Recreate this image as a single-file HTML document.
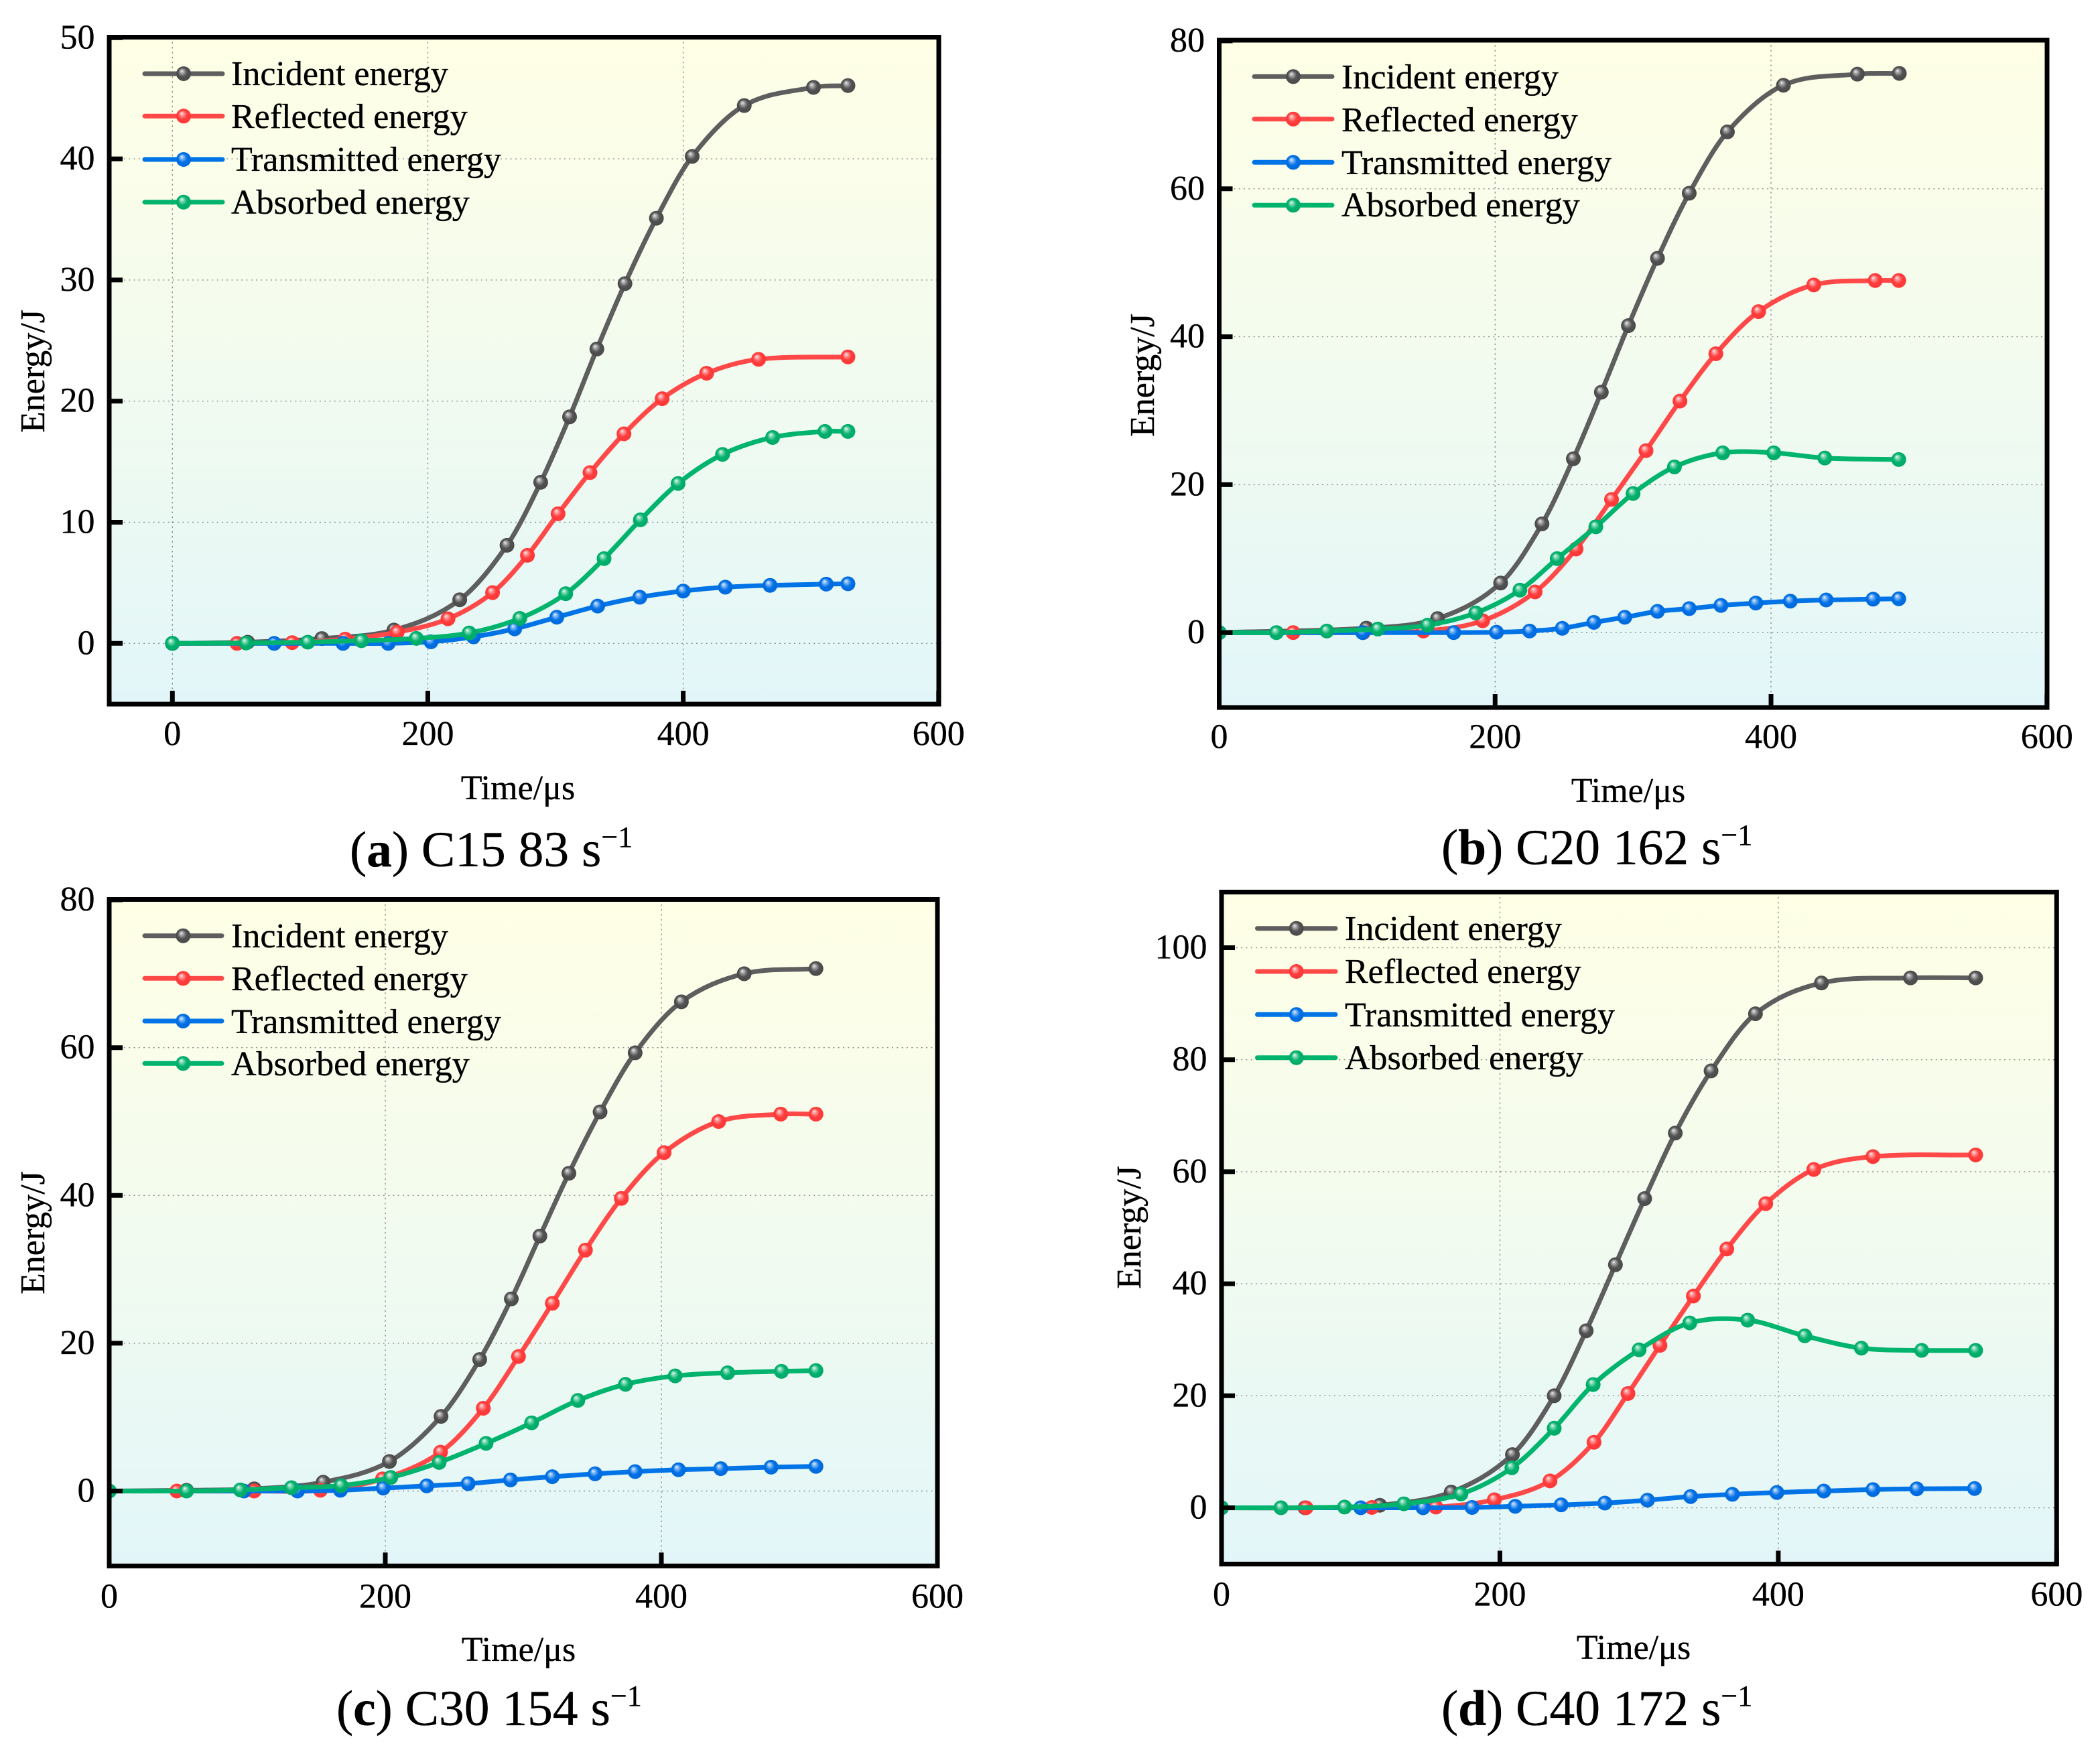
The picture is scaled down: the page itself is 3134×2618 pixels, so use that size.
<!DOCTYPE html>
<html lang="en">
<head>
<meta charset="utf-8">
<title>Energy time-history curves</title>
<style>
html,body{margin:0;padding:0;background:#fff;}
svg{display:block;}
text{font-family:"Liberation Serif",serif;fill:#000;stroke:#000;stroke-width:.35px;}
.lg{font-size:52px;}
.tk{font-size:52px;}
.at{font-size:52px;}
.cap{font-size:75.5px;}
.cap .b{font-weight:bold;}
.sup{font-size:44px;}
</style>
</head>
<body>
<svg id="fig" xmlns="http://www.w3.org/2000/svg" width="3134" height="2618" viewBox="0 0 3134 2618">
<defs>
<linearGradient id="bg" x1="0" y1="0" x2="0" y2="1">
<stop offset="0" stop-color="#ffffe6"/><stop offset="0.5" stop-color="#f2fbef"/><stop offset="1" stop-color="#e2f6f9"/>
</linearGradient>
<radialGradient id="m-incident" cx=".5" cy=".5" r=".55" fx=".36" fy=".3">
<stop offset="0" stop-color="#eeeeee"/><stop offset=".22" stop-color="#a8a8a8"/><stop offset=".55" stop-color="#525252"/><stop offset="1" stop-color="#484848"/>
</radialGradient>
<radialGradient id="m-reflected" cx=".5" cy=".5" r=".55" fx=".36" fy=".3">
<stop offset="0" stop-color="#ffeeee"/><stop offset=".22" stop-color="#ff9a9a"/><stop offset=".55" stop-color="#ff3c3c"/><stop offset="1" stop-color="#ff3636"/>
</radialGradient>
<radialGradient id="m-transmitted" cx=".5" cy=".5" r=".55" fx=".36" fy=".3">
<stop offset="0" stop-color="#e8f2ff"/><stop offset=".22" stop-color="#80b8f5"/><stop offset=".55" stop-color="#0070e4"/><stop offset="1" stop-color="#0068dc"/>
</radialGradient>
<radialGradient id="m-absorbed" cx=".5" cy=".5" r=".55" fx=".36" fy=".3">
<stop offset="0" stop-color="#e8fff5"/><stop offset=".22" stop-color="#80d8b4"/><stop offset=".55" stop-color="#00b06c"/><stop offset="1" stop-color="#00a866"/>
</radialGradient>
</defs>

<g id="plots"></g>

<g>
  <text class="at" x="773" y="1193" text-anchor="middle">Time/μs</text>
  <text class="at" transform="translate(66 554) rotate(-90)" text-anchor="middle">Energy/J</text>
  <text class="cap" x="522" y="1293">(<tspan class="b">a</tspan>) C15 83 s<tspan class="sup" dy="-29">−1</tspan></text>
  <text class="lg" x="345" y="127">Incident energy</text>
  <text class="lg" x="345" y="191">Reflected energy</text>
  <text class="lg" x="345" y="255">Transmitted energy</text>
  <text class="lg" x="345" y="319">Absorbed energy</text>
</g>
<g>
  <text class="at" x="2430" y="1197" text-anchor="middle">Time/μs</text>
  <text class="at" transform="translate(1722 560) rotate(-90)" text-anchor="middle">Energy/J</text>
  <text class="cap" x="2151" y="1290">(<tspan class="b">b</tspan>) C20 162 s<tspan class="sup" dy="-29">−1</tspan></text>
  <text class="lg" x="2002" y="132">Incident energy</text>
  <text class="lg" x="2002" y="196">Reflected energy</text>
  <text class="lg" x="2002" y="260">Transmitted energy</text>
  <text class="lg" x="2002" y="323">Absorbed energy</text>
</g>
<g>
  <text class="at" x="774" y="2479" text-anchor="middle">Time/μs</text>
  <text class="at" transform="translate(66 1840) rotate(-90)" text-anchor="middle">Energy/J</text>
  <text class="cap" x="502" y="2575">(<tspan class="b">c</tspan>) C30 154 s<tspan class="sup" dy="-29">−1</tspan></text>
  <text class="lg" x="345" y="1414">Incident energy</text>
  <text class="lg" x="345" y="1478">Reflected energy</text>
  <text class="lg" x="345" y="1542">Transmitted energy</text>
  <text class="lg" x="345" y="1605">Absorbed energy</text>
</g>
<g>
  <text class="at" x="2438" y="2476" text-anchor="middle">Time/μs</text>
  <text class="at" transform="translate(1702 1832) rotate(-90)" text-anchor="middle">Energy/J</text>
  <text class="cap" x="2151" y="2575">(<tspan class="b">d</tspan>) C40 172 s<tspan class="sup" dy="-29">−1</tspan></text>
  <text class="lg" x="2007" y="1403">Incident energy</text>
  <text class="lg" x="2007" y="1467">Reflected energy</text>
  <text class="lg" x="2007" y="1532">Transmitted energy</text>
  <text class="lg" x="2007" y="1596">Absorbed energy</text>
</g>
</svg>

<script>
/* ---------- tick labels ---------- */
const xTicksAll = [0, 200, 400, 600];
const yTicksA = [0, 10, 20, 30, 40, 50];
const yTicksB = [0, 20, 40, 60, 80];
const yTicksC = [0, 20, 40, 60, 80];
const yTicksD = [0, 20, 40, 60, 80, 100];

/* ---------- panel (a) C15 83 /s ---------- */
const aIncidentT = [0, 58.9, 117, 173.5, 225, 262, 288.4, 311, 332.4, 354.4, 379, 407, 447.8, 502, 529];
const aIncidentE = [0, 0.1, 0.4, 1.1, 3.6, 8.1, 13.3, 18.7, 24.3, 29.7, 35.1, 40.2, 44.4, 45.9, 46.05];
const aReflectedT = [0, 50.6, 93.8, 135.3, 176, 215.8, 250.7, 278, 302, 327, 353.6, 383.5, 418.3, 459, 529];
const aReflectedE = [0, 0, 0.06, 0.35, 0.92, 2.03, 4.19, 7.27, 10.7, 14.1, 17.3, 20.2, 22.3, 23.45, 23.65];
const aTransmittedT = [0, 79.7, 133.6, 169, 202.5, 235.7, 268, 301, 333, 366, 400, 433, 468, 512, 529];
const aTransmittedE = [0, 0, 0, 0, 0.13, 0.54, 1.2, 2.16, 3.08, 3.81, 4.32, 4.64, 4.79, 4.89, 4.92];
const aAbsorbedT = [0, 57.7, 106, 148, 191, 232.4, 272, 308, 338, 366.5, 396, 430.8, 470, 511, 529];
const aAbsorbedE = [0, 0.03, 0.1, 0.22, 0.41, 0.86, 2.06, 4.1, 7, 10.2, 13.2, 15.6, 17, 17.5, 17.5];

/* ---------- panel (b) C20 162 /s ---------- */
const bIncidentT = [0, 106.7, 158.3, 204, 234, 256.7, 277, 296.6, 317.7, 340.7, 368.4, 409, 462.6, 493];
const bIncidentE = [0, 0.6, 1.9, 6.7, 14.7, 23.5, 32.5, 41.5, 50.6, 59.4, 67.7, 74, 75.5, 75.6];
const bReflectedT = [0, 53.6, 104.4, 148, 191, 229, 258.7, 284.4, 309.4, 334, 360, 391, 431, 475.5, 492.6];
const bReflectedE = [0, 0, 0, 0.21, 1.6, 5.5, 11.3, 18, 24.6, 31.3, 37.7, 43.4, 47, 47.6, 47.6];
const bTransmittedT = [0, 104, 170, 201, 225, 248.7, 271.6, 294, 317.7, 340.7, 363.7, 389, 414, 440, 474, 492.6];
const bTransmittedE = [0, 0, 0, 0.05, 0.21, 0.58, 1.38, 2.07, 2.87, 3.24, 3.67, 3.99, 4.25, 4.41, 4.52, 4.57];
const bAbsorbedT = [0, 41.5, 78, 115, 151, 186, 218, 245, 273, 300, 330, 365, 402, 439, 492.6];
const bAbsorbedE = [0, 0, 0.21, 0.48, 1, 2.66, 5.74, 10, 14.3, 18.8, 22.4, 24.3, 24.3, 23.6, 23.4];

/* ---------- panel (c) C30 154 /s ---------- */
const cIncidentT = [0, 56, 105, 155, 203, 240.4, 268.4, 291.3, 312, 333, 355.6, 381, 414.5, 460, 512];
const cIncidentE = [0, 0.1, 0.3, 1.2, 4, 10.1, 17.8, 26, 34.5, 43, 51.3, 59.3, 66.2, 70, 70.7];
const cReflectedT = [0, 49, 105, 153, 198, 240, 271, 296.5, 321, 345, 371, 402, 441.5, 486.5, 512];
const cReflectedE = [0, 0, 0, 0.1, 1.64, 5.26, 11.2, 18.2, 25.4, 32.6, 39.6, 45.8, 50, 51, 51];
const cTransmittedT = [0, 97.6, 136.4, 167.5, 198.5, 230, 260, 290.7, 321, 352, 381, 412.4, 443, 479.5, 512];
const cTransmittedE = [0, 0, 0, 0.1, 0.4, 0.7, 1, 1.5, 1.94, 2.33, 2.63, 2.88, 3.03, 3.23, 3.33];
const cAbsorbedT = [0, 56, 95, 132, 168, 204, 239, 273, 306, 339.5, 374, 410, 448, 487, 512];
const cAbsorbedE = [0, 0, 0.15, 0.45, 0.74, 1.84, 3.87, 6.45, 9.23, 12.26, 14.44, 15.58, 16, 16.2, 16.3];

/* ---------- panel (d) C40 172 /s ---------- */
const dIncidentT = [0, 60, 113.7, 165, 209, 239, 262, 283, 304, 326, 351.7, 383.6, 431, 495, 541.8];
const dIncidentE = [0, 0, 0.45, 2.8, 9.5, 20, 31.6, 43.4, 55.2, 66.9, 78, 88.2, 93.7, 94.6, 94.6];
const dReflectedT = [0, 60.7, 108, 154, 196, 236, 267.6, 292, 315, 339, 363, 391, 425.5, 468, 541.8];
const dReflectedE = [0, 0, 0.06, 0.13, 1.43, 4.8, 11.7, 20.4, 29, 37.8, 46.2, 54.3, 60.4, 62.7, 63];
const dTransmittedT = [0, 100, 144.8, 180, 211, 244, 275.4, 306, 337, 367, 399, 432.7, 468, 499.5, 541];
const dTransmittedE = [0, 0, 0, 0.06, 0.26, 0.52, 0.84, 1.36, 2, 2.4, 2.73, 2.99, 3.25, 3.38, 3.44];
const dAbsorbedT = [0, 42.7, 88.4, 131, 172, 208.6, 239, 267, 300, 336.4, 378, 419, 459.7, 503, 541.8];
const dAbsorbedE = [0, 0, 0.13, 0.71, 2.47, 7.14, 14.2, 22, 28.2, 33, 33.5, 30.7, 28.5, 28.1, 28.1];

/* ---------- series styling ---------- */
const lineColors = { incident: '#5e5e5e', reflected: '#ff4848', transmitted: '#0074e6', absorbed: '#00b46e' };
const seriesKeys = ['incident', 'reflected', 'transmitted', 'absorbed'];

/* ---------- panel layout (axis anchors) ---------- */
const layouts = [
  { id: 'a', L: 163, R: 1401, T: 55.5, B: 1051, x0: 257.3, kx: 1.9058, y0: 960.3, ky: 18.08, xLabY: 1112, ticksY: yTicksA,
    legX1: 213, legX2: 335, legM: 274, legY: [110, 173.3, 238, 301.7],
    data: { incident: [aIncidentT, aIncidentE], reflected: [aReflectedT, aReflectedE], transmitted: [aTransmittedT, aTransmittedE], absorbed: [aAbsorbedT, aAbsorbedE] } },
  { id: 'b', L: 1819.5, R: 3055, T: 60, B: 1056, x0: 1819.5, kx: 2.0588, y0: 944.2, ky: 11.04, xLabY: 1116.7, ticksY: yTicksB,
    legX1: 1869, legX2: 1991, legM: 1930, legY: [114.3, 177.7, 242.3, 306.3],
    data: { incident: [bIncidentT, bIncidentE], reflected: [bReflectedT, bReflectedE], transmitted: [bTransmittedT, bTransmittedE], absorbed: [bAbsorbedT, bAbsorbedE] } },
  { id: 'c', L: 163, R: 1399, T: 1342.5, B: 2337.3, x0: 163, kx: 2.06, y0: 2225.5, ky: 11.03, xLabY: 2399.5, ticksY: yTicksC,
    legX1: 213, legX2: 334, legM: 273.3, legY: [1396.7, 1460.3, 1524, 1587.3],
    data: { incident: [cIncidentT, cIncidentE], reflected: [cReflectedT, cReflectedE], transmitted: [cTransmittedT, cTransmittedE], absorbed: [cAbsorbedT, cAbsorbedE] } },
  { id: 'd', L: 1823, R: 3069.3, T: 1331.5, B: 2334.5, x0: 1823, kx: 2.0772, y0: 2250.5, ky: 8.36, xLabY: 2396.7, ticksY: yTicksD,
    legX1: 1873.5, legX2: 1996, legM: 1934.7, legY: [1385.7, 1450, 1514.3, 1578.7],
    data: { incident: [dIncidentT, dIncidentE], reflected: [dReflectedT, dReflectedE], transmitted: [dTransmittedT, dTransmittedE], absorbed: [dAbsorbedT, dAbsorbedE] } }
];

const NS = 'http://www.w3.org/2000/svg';
function add(tag, parent) {
  const el = document.createElementNS(NS, tag);
  parent.appendChild(el);
  return el;
}

/* Hermite spline through the data points, expressed in pixel space */
function splinePath(xs, ys) {
  const n = xs.length;
  const m = [];
  for (let i = 0; i < n; i++) {
    const a = Math.max(0, i - 1), b = Math.min(n - 1, i + 1);
    m[i] = (ys[b] - ys[a]) / (xs[b] - xs[a]);
  }
  let d = 'M' + xs[0].toFixed(1) + ' ' + ys[0].toFixed(1);
  for (let i = 0; i < n - 1; i++) {
    const dx = xs[i + 1] - xs[i];
    d += 'C' + (xs[i] + dx / 3).toFixed(1) + ' ' + (ys[i] + m[i] * dx / 3).toFixed(1) + ' ' +
         (xs[i + 1] - dx / 3).toFixed(1) + ' ' + (ys[i + 1] - m[i + 1] * dx / 3).toFixed(1) + ' ' +
         xs[i + 1].toFixed(1) + ' ' + ys[i + 1].toFixed(1);
  }
  return d;
}

function drawPanel(p, root) {
  const xScale = function (v) { return p.x0 + v * p.kx; };
  const yScale = function (v) { return p.y0 - v * p.ky; };

  const g = add('g', root);
  
  

  const bg = add('rect', g);
  
  
  bg.setAttribute('x', p.L);
  bg.setAttribute('y', p.T);
  bg.setAttribute('width', p.R - p.L);
  bg.setAttribute('height', p.B - p.T);
  bg.setAttribute('fill', 'url(#bg)');

  /* gridlines */
  xTicksAll.forEach(function (t) {
    const gl = add('line', g);
    
    
    gl.setAttribute('x1', xScale(t));
    gl.setAttribute('x2', xScale(t));
    gl.setAttribute('y1', p.T);
    gl.setAttribute('y2', p.B);
    gl.setAttribute('stroke', '#8f8f8f');
    gl.setAttribute('stroke-width', '1.4');
    gl.setAttribute('stroke-dasharray', '2.4 4.9');
  });
  p.ticksY.forEach(function (t) {
    const gl = add('line', g);
    
    
    gl.setAttribute('x1', p.L);
    gl.setAttribute('x2', p.R);
    gl.setAttribute('y1', yScale(t));
    gl.setAttribute('y2', yScale(t));
    gl.setAttribute('stroke', '#8f8f8f');
    gl.setAttribute('stroke-width', '1.4');
    gl.setAttribute('stroke-dasharray', '2 5.3');
  });

  /* clip so the markers at t=0 stop at the frame */
  const cp = add('clipPath', g);
  cp.setAttribute('id', 'clip-' + p.id);
  const cr = add('rect', cp);
  cr.setAttribute('x', p.L);
  cr.setAttribute('y', p.T);
  cr.setAttribute('width', p.R - p.L);
  cr.setAttribute('height', p.B - p.T);

  const sg = add('g', g);
  
  
  sg.setAttribute('clip-path', 'url(#clip-' + p.id + ')');

  seriesKeys.forEach(function (key) {
    const ts = p.data[key][0];
    const es = p.data[key][1];
    const xs = ts.map(xScale);
    const ys = es.map(yScale);
    const line = add('path', sg);
    
    
    line.setAttribute('d', splinePath(xs, ys));
    line.setAttribute('fill', 'none');
    line.setAttribute('stroke', lineColors[key]);
    line.setAttribute('stroke-width', '7');
    xs.forEach(function (px, i) {
      const c = add('circle', sg);
      
      
      c.setAttribute('cx', px);
      c.setAttribute('cy', ys[i]);
      c.setAttribute('r', '11');
      c.setAttribute('fill', 'url(#m-' + key + ')');
    });
  });

  /* frame */
  const frame = add('rect', g);
  
  
  frame.setAttribute('x', p.L);
  frame.setAttribute('y', p.T);
  frame.setAttribute('width', p.R - p.L);
  frame.setAttribute('height', p.B - p.T);
  frame.setAttribute('fill', 'none');
  frame.setAttribute('stroke', '#000');
  frame.setAttribute('stroke-width', '7');

  /* x ticks */
  xTicksAll.forEach(function (t) {
    const tick = add('line', g);
    
    
    tick.setAttribute('x1', xScale(t));
    tick.setAttribute('x2', xScale(t));
    tick.setAttribute('y1', p.B);
    tick.setAttribute('y2', p.B - 20);
    tick.setAttribute('stroke', '#000');
    tick.setAttribute('stroke-width', '7');
    const lab = add('text', g);
    
    
    lab.setAttribute('class', 'tk');
    lab.setAttribute('x', xScale(t));
    lab.setAttribute('y', p.xLabY);
    lab.setAttribute('text-anchor', 'middle');
    lab.textContent = t;
  });

  /* y ticks */
  p.ticksY.forEach(function (t) {
    const tick = add('line', g);
    
    
    tick.setAttribute('x1', p.L);
    tick.setAttribute('x2', p.L + 20);
    tick.setAttribute('y1', yScale(t));
    tick.setAttribute('y2', yScale(t));
    tick.setAttribute('stroke', '#000');
    tick.setAttribute('stroke-width', '7');
    const lab = add('text', g);
    
    
    lab.setAttribute('class', 'tk');
    lab.setAttribute('x', p.L - 21.5);
    lab.setAttribute('y', yScale(t) + 16);
    lab.setAttribute('text-anchor', 'end');
    lab.textContent = t;
  });

  /* legend swatches */
  seriesKeys.forEach(function (key, i) {
    const sw = add('line', g);
    
    
    sw.setAttribute('x1', p.legX1 + 3);
    sw.setAttribute('x2', p.legX2 - 3);
    sw.setAttribute('y1', p.legY[i]);
    sw.setAttribute('y2', p.legY[i]);
    sw.setAttribute('stroke', lineColors[key]);
    sw.setAttribute('stroke-width', '7');
    sw.setAttribute('stroke-linecap', 'round');
    const mk = add('circle', g);
    
    
    mk.setAttribute('cx', p.legM);
    mk.setAttribute('cy', p.legY[i]);
    mk.setAttribute('r', '11');
    mk.setAttribute('fill', 'url(#m-' + key + ')');
  });
}

const plotsRoot = document.getElementById('plots');
layouts.forEach(function (p) { drawPanel(p, plotsRoot); });
</script>
</body>
</html>
